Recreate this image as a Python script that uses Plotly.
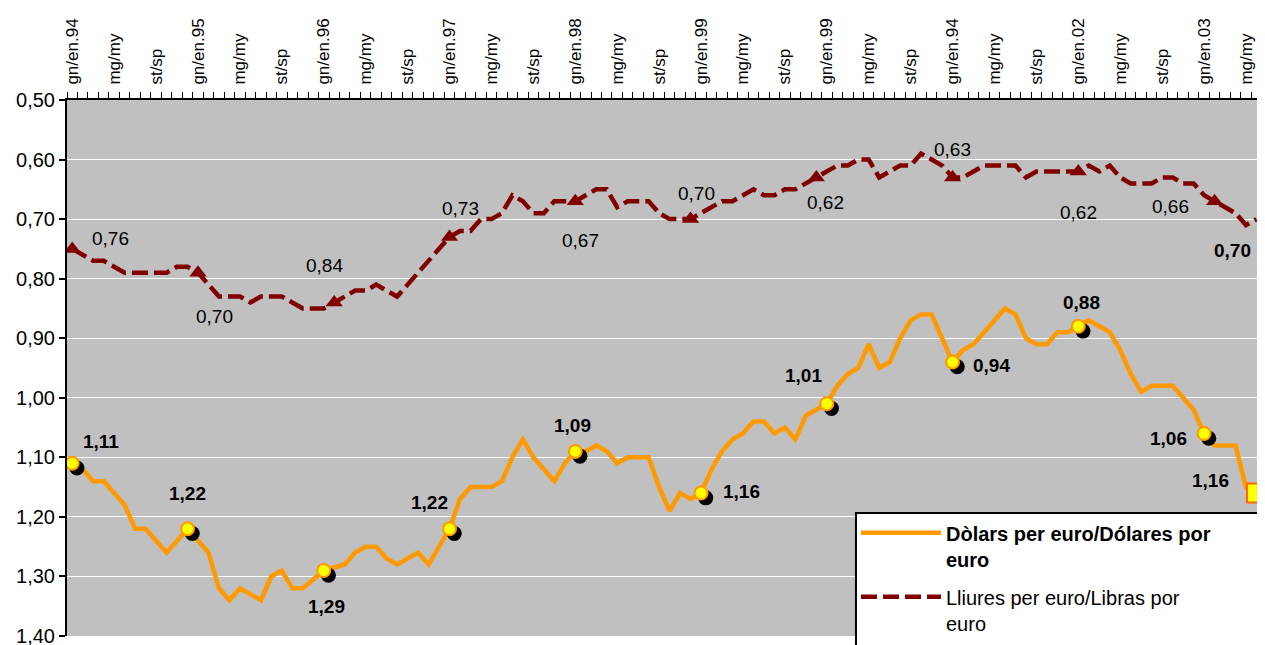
import plotly.graph_objects as go

# ---------------- data ----------------
# monthly, Jan 1994 ... Jun 2003 (index 0..113)
usd = [1.11, 1.12, 1.14, 1.14, 1.16, 1.18, 1.22, 1.22, 1.24, 1.26, 1.24, 1.22,
       1.24, 1.26, 1.32, 1.34, 1.32, 1.33, 1.34, 1.30, 1.29, 1.32, 1.32, 1.305,
       1.29, 1.285, 1.28, 1.26, 1.25, 1.25, 1.27, 1.28, 1.27, 1.26, 1.28, 1.25,
       1.22, 1.17, 1.15, 1.15, 1.15, 1.14, 1.10, 1.07, 1.10, 1.12, 1.14, 1.11,
       1.09, 1.09, 1.08, 1.09, 1.11, 1.10, 1.10, 1.10, 1.15, 1.19, 1.16, 1.17,
       1.16, 1.12, 1.09, 1.07, 1.06, 1.04, 1.04, 1.06, 1.05, 1.07, 1.03, 1.02,
       1.01, 0.98, 0.96, 0.95, 0.91, 0.95, 0.94, 0.90, 0.87, 0.86, 0.86, 0.90,
       0.94, 0.92, 0.91, 0.89, 0.87, 0.85, 0.86, 0.90, 0.91, 0.91, 0.89, 0.89,
       0.88, 0.87, 0.88, 0.89, 0.92, 0.96, 0.99, 0.98, 0.98, 0.98, 1.00, 1.02,
       1.06, 1.08, 1.08, 1.08, 1.15, 1.16]

gbp = [0.75, 0.76, 0.77, 0.77, 0.78, 0.79, 0.79, 0.79, 0.79, 0.79, 0.78, 0.78,
       0.79, 0.81, 0.83, 0.83, 0.83, 0.84, 0.83, 0.83, 0.83, 0.84, 0.85, 0.85,
       0.85, 0.84, 0.83, 0.82, 0.82, 0.81, 0.82, 0.83, 0.81, 0.79, 0.77, 0.75,
       0.73, 0.72, 0.72, 0.70, 0.70, 0.69, 0.66, 0.67, 0.69, 0.69, 0.67, 0.67,
       0.67, 0.66, 0.65, 0.65, 0.68, 0.67, 0.67, 0.67, 0.69, 0.70, 0.70, 0.70,
       0.69, 0.68, 0.67, 0.67, 0.66, 0.65, 0.66, 0.66, 0.65, 0.65, 0.64, 0.63,
       0.62, 0.61, 0.61, 0.60, 0.60, 0.63, 0.62, 0.61, 0.61, 0.59, 0.60, 0.61,
       0.63, 0.63, 0.62, 0.61, 0.61, 0.61, 0.61, 0.63, 0.62, 0.62, 0.62, 0.62,
       0.62, 0.61, 0.62, 0.61, 0.63, 0.64, 0.64, 0.64, 0.63, 0.63, 0.64, 0.64,
       0.66, 0.67, 0.68, 0.69, 0.71, 0.70]

tick_labels = ["gn/en.94", "mg/my", "st/sp", "gn/en.95", "mg/my", "st/sp",
               "gn/en.96", "mg/my", "st/sp", "gn/en.97", "mg/my", "st/sp",
               "gn/en.98", "mg/my", "st/sp", "gn/en.99", "mg/my", "st/sp",
               "gn/en.99", "mg/my", "st/sp", "gn/en.94", "mg/my", "st/sp",
               "gn/en.02", "mg/my", "st/sp", "gn/en.03", "mg/my"]

y_ticks = [0.50, 0.60, 0.70, 0.80, 0.90, 1.00, 1.10, 1.20, 1.30, 1.40]
y_tick_text = ["0,50", "0,60", "0,70", "0,80", "0,90", "1,00", "1,10", "1,20", "1,30", "1,40"]

usd_mark_idx = [0, 11, 24, 36, 48, 60, 72, 84, 96, 108]
usd_last_idx = 113
usd_labels = ["1,11", "1,22", "1,29", "1,22", "1,09", "1,16", "1,01", "0,94", "0,88", "1,06", "1,16"]
gbp_mark_idx = [0, 12, 25, 36, 48, 59, 71, 84, 96, 109]
gbp_labels = ["0,76", "0,70", "0,84", "0,73", "0,67", "0,70", "0,62", "0,63", "0,62", "0,66", "0,70"]

name_usd = "<b>Dòlars per euro/Dólares por<br>euro</b>"
name_gbp = "Lliures per euro/Libras por<br>euro"

# ---------------- styles ----------------
ORANGE = "#FF9900"
DARKRED = "#800000"
FONT = "Liberation Sans, Arial, sans-serif"
# label offsets (px): (dx right, dy down)
usd_off = [(29, -22), (0, -35), (3, 36), (-20, -26), (-3, -26), (40, -2),
           (-23, -28), (39, 3), (3, -24), (-36, 5), (-46, -13)]
gbp_off = [(38, -10), (16, 44), (-10, -37), (11, -28), (5, 39), (6, -26),
           (9, 25), (0, -28), (0, 41), (-44, 5), (-24, 31)]
gbp_bold = [False] * 10 + [True]

x = list(range(len(usd)))

fig = go.Figure()

fig.add_trace(go.Scatter(x=x, y=usd, mode="lines", name=name_usd, legendgroup="usd",
                         line=dict(color=ORANGE, width=4.5), legendrank=1))
fig.add_trace(go.Scatter(x=x, y=gbp, mode="lines", name=name_gbp, legendgroup="gbp",
                         line=dict(color=DARKRED, width=4.5, dash="16px,6px"),
                         legendrank=2))
fig.add_trace(go.Scatter(x=gbp_mark_idx, y=[gbp[i] for i in gbp_mark_idx],
                         mode="markers", showlegend=False,
                         marker=dict(symbol="triangle-up", size=15, color=DARKRED)))
# shadow of dollar markers (small style offset)
fig.add_trace(go.Scatter(x=[i + 0.45 for i in usd_mark_idx],
                         y=[usd[i] + 0.008 for i in usd_mark_idx],
                         mode="markers", showlegend=False,
                         marker=dict(symbol="circle", size=15, color="black")))
fig.add_trace(go.Scatter(x=usd_mark_idx, y=[usd[i] for i in usd_mark_idx],
                         mode="markers", showlegend=False,
                         marker=dict(symbol="circle", size=13, color="#FFFF00",
                                     line=dict(color=ORANGE, width=2))))
fig.add_trace(go.Scatter(x=[usd_last_idx], y=[usd[usd_last_idx]],
                         mode="markers", showlegend=False,
                         marker=dict(symbol="square", size=19, color="#FFFF00",
                                     line=dict(color="#FF6600", width=2))))

ann = []
for k, i in enumerate(usd_mark_idx + [usd_last_idx]):
    dx, dy = usd_off[k]
    ann.append(dict(x=i, y=usd[i], text="<b>" + usd_labels[k] + "</b>", showarrow=False,
                    xshift=dx, yshift=-dy, font=dict(family=FONT, size=19, color="black")))
for k, i in enumerate(gbp_mark_idx + [len(gbp) - 1]):
    dx, dy = gbp_off[k]
    t = gbp_labels[k]
    if gbp_bold[k]:
        t = "<b>" + t + "</b>"
    ann.append(dict(x=i, y=gbp[i], text=t, showarrow=False,
                    xshift=dx, yshift=-dy, font=dict(family=FONT, size=19, color="black")))

# the page body adds an 8px margin; size and margins compensate for it
fig.update_layout(
    width=1249, height=637,
    margin=dict(l=59, r=0, t=92, b=9, pad=0, autoexpand=False),
    paper_bgcolor="white", plot_bgcolor="#C0C0C0",
    font=dict(family=FONT, color="black"),
    annotations=ann,
    showlegend=True,
    legend=dict(x=0.663, y=0.229, xanchor="left", yanchor="top",
                bgcolor="rgba(0,0,0,0)", borderwidth=0,
                font=dict(family=FONT, size=20, color="black"),
                itemwidth=80, valign="top", tracegroupgap=9,
                traceorder="grouped"),
    shapes=[dict(type="rect", xref="paper", yref="paper",
                 x0=0.663, x1=1.02, y0=-0.03, y1=0.2295,
                 fillcolor="white", line=dict(color="black", width=2),
                 layer="above")],
)

fig.update_xaxes(range=[-0.5, 113.05], side="top", showline=True, linecolor="black",
                 linewidth=2, showgrid=False, zeroline=False, automargin=False,
                 tickmode="array", tickvals=list(range(0, len(usd), 4)),
                 ticktext=tick_labels, tickangle=-90, ticks="", ticklabelstandoff=10,
                 ticklabeloverflow="allow",
                 tickfont=dict(family=FONT, size=17, color="black"),
                 minor=dict(tickmode="linear", tick0=-0.5, dtick=1, ticks="outside",
                            ticklen=6, tickwidth=1, tickcolor="black", showgrid=False))
fig.update_yaxes(range=[1.40, 0.50], showline=True, linecolor="black", linewidth=2,
                 automargin=False, ticklabeloverflow="allow",
                 tickmode="array", tickvals=y_ticks, ticktext=y_tick_text,
                 ticks="outside", ticklen=6, tickcolor="black", tickwidth=2,
                 showgrid=True, gridcolor="white", gridwidth=1, zeroline=False,
                 tickfont=dict(family=FONT, size=20, color="black"))

fig.write_html("out.html")
